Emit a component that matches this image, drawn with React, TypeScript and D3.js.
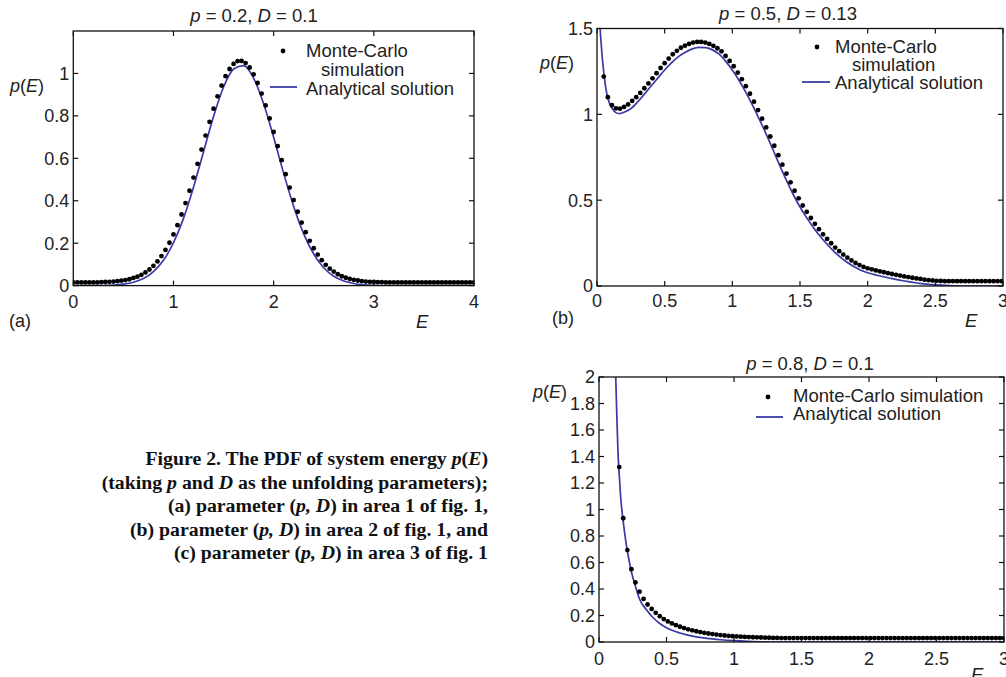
import React from 'react';
import * as d3 from 'd3';

// Monte-Carlo histograms (uniform bins) and analytical PDFs

// (a) p = 0.2, D = 0.1 : dots from E = 0 every 0.04
const mcStartA = 0;
const mcStepA = 0.04;
const mcA = [
  0.015, 0.015, 0.015, 0.015, 0.015, 0.015, 0.015, 0.016, 0.017, 0.018,
  0.019, 0.021, 0.023, 0.026, 0.030, 0.036, 0.042, 0.051, 0.062, 0.076,
  0.093, 0.114, 0.139, 0.168, 0.202, 0.241, 0.285, 0.335, 0.389, 0.447,
  0.509, 0.574, 0.641, 0.707, 0.772, 0.834, 0.892, 0.943, 0.987, 1.021,
  1.045, 1.058, 1.059, 1.049, 1.028, 0.996, 0.955, 0.905, 0.849, 0.788,
  0.724, 0.657, 0.591, 0.525, 0.462, 0.403, 0.348, 0.297, 0.252, 0.211,
  0.176, 0.146, 0.120, 0.098, 0.080, 0.066, 0.054, 0.044, 0.037, 0.031,
  0.027, 0.024, 0.021, 0.019, 0.018, 0.017, 0.016, 0.016, 0.015, 0.015,
  0.015, 0.015, 0.015, 0.015, 0.015, 0.015, 0.015, 0.015, 0.015, 0.015,
  0.015, 0.015, 0.015, 0.015, 0.015, 0.015, 0.015, 0.015, 0.015, 0.015,
  0.015,
];
const anaEA = [
  0, 0.1, 0.2, 0.3, 0.4, 0.5, 0.6, 0.7, 0.8, 0.9,
  1.0, 1.1, 1.2, 1.3, 1.4, 1.5, 1.6, 1.7, 1.8, 1.9,
  2.0, 2.1, 2.2, 2.3, 2.4, 2.5, 2.6, 2.7, 2.8, 2.9,
  3.0, 3.1, 3.2, 3.3, 3.4, 3.5, 3.6, 3.7, 3.8, 3.9, 4.0,
];
const anaPA = [
  0, 0, 0, 0, 0.002, 0.007, 0.016, 0.033, 0.066, 0.119,
  0.202, 0.317, 0.464, 0.631, 0.797, 0.936, 1.021, 1.037, 0.978, 0.857,
  0.699, 0.529, 0.373, 0.244, 0.149, 0.084, 0.044, 0.022, 0.010, 0.004,
  0.001, 0, 0, 0, 0, 0, 0, 0, 0, 0, 0,
];

// (b) p = 0.5, D = 0.13 : dots from E = 0.05 every 0.03
const mcStartB = 0.05;
const mcStepB = 0.03;
const mcB = [
  1.22, 1.10, 1.053, 1.035, 1.033, 1.043, 1.058, 1.078, 1.10, 1.125,
  1.152, 1.18, 1.21, 1.24, 1.27, 1.298, 1.325, 1.35, 1.37, 1.388,
  1.40, 1.41, 1.418, 1.422, 1.422, 1.418, 1.41, 1.399, 1.385, 1.367,
  1.34, 1.311, 1.28, 1.243, 1.205, 1.164, 1.12, 1.074, 1.025, 0.975,
  0.924, 0.871, 0.817, 0.762, 0.707, 0.655, 0.604, 0.555, 0.511, 0.469,
  0.432, 0.396, 0.362, 0.331, 0.301, 0.274, 0.249, 0.224, 0.203, 0.183,
  0.165, 0.149, 0.134, 0.122, 0.111, 0.103, 0.097, 0.091, 0.085, 0.08,
  0.075, 0.07, 0.065, 0.061, 0.056, 0.052, 0.048, 0.044, 0.041, 0.037,
  0.034, 0.032, 0.03, 0.029, 0.028, 0.028, 0.028, 0.028, 0.028, 0.028,
  0.028, 0.028, 0.028, 0.028, 0.028, 0.028, 0.028, 0.028, 0.028,
];
const anaEB = [
  0.02, 0.03, 0.04, 0.05, 0.06, 0.07, 0.08, 0.1, 0.12, 0.14, 0.165, 0.2,
  0.25, 0.3, 0.35, 0.4, 0.45, 0.5, 0.55, 0.6, 0.65, 0.7, 0.75, 0.8, 0.85,
  0.9, 0.95, 1.0, 1.05, 1.1, 1.15, 1.2, 1.25, 1.3, 1.35, 1.4, 1.45, 1.5,
  1.55, 1.6, 1.65, 1.7, 1.75, 1.8, 1.85, 1.9, 1.95, 2.0, 2.05, 2.1, 2.15,
  2.2, 2.25, 2.3, 2.35, 2.4, 2.45, 2.5, 2.6, 2.7, 2.8, 2.9, 3.0,
];
const anaPB = [
  1.53, 1.42, 1.32, 1.245, 1.18, 1.13, 1.095, 1.05, 1.025, 1.01, 1.004, 1.012,
  1.033, 1.072, 1.118, 1.165, 1.212, 1.258, 1.30, 1.335, 1.36, 1.38, 1.39, 1.389, 1.377,
  1.352, 1.31, 1.258, 1.197, 1.128, 1.052, 0.97, 0.885, 0.795, 0.703, 0.615, 0.533, 0.46,
  0.397, 0.34, 0.288, 0.243, 0.202, 0.167, 0.137, 0.112, 0.092, 0.077, 0.066, 0.057, 0.048,
  0.040, 0.032, 0.025, 0.019, 0.014, 0.009, 0.006, 0.002, 0, 0, 0, 0,
];

// (c) p = 0.8, D = 0.1 : dots from E = 0.15 every 0.03
const mcStartC = 0.15;
const mcStepC = 0.03;
const mcC = [
  1.32, 0.934, 0.694, 0.55, 0.45, 0.38, 0.325, 0.283, 0.25, 0.22,
  0.195, 0.173, 0.155, 0.14, 0.127, 0.115, 0.105, 0.096, 0.088, 0.081,
  0.075, 0.069, 0.064, 0.06, 0.056, 0.052, 0.049, 0.046, 0.044, 0.042,
  0.04, 0.038, 0.037, 0.036, 0.035, 0.034, 0.033, 0.032, 0.031, 0.031,
  0.03, 0.03, 0.03, 0.03, 0.03, 0.03, 0.03, 0.03, 0.03, 0.03,
  0.03, 0.03, 0.03, 0.03, 0.03, 0.03, 0.03, 0.03, 0.03, 0.03,
  0.03, 0.03, 0.03, 0.03, 0.03, 0.03, 0.03, 0.03, 0.03, 0.03,
  0.03, 0.03, 0.03, 0.03, 0.03, 0.03, 0.03, 0.03, 0.03, 0.03,
  0.03, 0.03, 0.03, 0.03, 0.03, 0.03, 0.03, 0.03, 0.03, 0.03,
  0.03, 0.03, 0.03, 0.03, 0.03, 0.03,
];
const anaEC = [
  0.1, 0.11, 0.12, 0.13, 0.14, 0.15, 0.16, 0.18, 0.2, 0.22, 0.24, 0.27, 0.3,
  0.35, 0.4, 0.45, 0.5, 0.6, 0.7, 0.8, 0.9, 1.0, 1.1, 1.2, 1.3, 1.5, 2.0, 2.5, 3.0,
];
const anaPC = [
  3.2, 2.6, 2.15, 1.78, 1.45, 1.26, 1.1, 0.905, 0.75, 0.63, 0.53, 0.42, 0.325,
  0.245, 0.185, 0.14, 0.108, 0.068, 0.043, 0.027, 0.017, 0.01, 0.005, 0.002, 0, 0, 0, 0, 0,
];

const xTicksA = [0, 1, 2, 3, 4];
const yTicksA = [0, 0.2, 0.4, 0.6, 0.8, 1];
const xTicksBC = [0, 0.5, 1, 1.5, 2, 2.5, 3];
const yTicksB = [0, 0.5, 1, 1.5];
const yTicksC = [0, 0.2, 0.4, 0.6, 0.8, 1, 1.2, 1.4, 1.6, 1.8, 2];

const SANS = '"Liberation Sans", Arial, Helvetica, sans-serif';
const SERIF = '"Liberation Serif", "Times New Roman", Times, serif';
const INK = '#222';
const BLUE = '#3a3aa6';
const fmt = d3.format('~g');

const It = ({ children }: { children: React.ReactNode }) => (
  <tspan fontStyle="italic">{children}</tspan>
);

function Panel({ id, box, xMax, yMax, xTicks, yTicks, mc, ana, title, text }: any) {
  const x = d3.scaleLinear().domain([0, xMax]).range([box.left, box.right]);
  const y = d3.scaleLinear().domain([0, yMax]).range([box.bottom, box.top]);
  const line = d3.line<[number, number]>()
    .x(d => x(d[0]))
    .y(d => y(d[1]))
    .curve(d3.curveMonotoneX);
  const anaPts: [number, number][] = ana.e.map((e: number, i: number) => [e, ana.p[i]]);
  const mcPts: [number, number][] = mc.values.map((v: number, i: number) => [mc.start + i * mc.step, v]);
  const tl = 5;
  return (
    <g>
      <defs>
        <clipPath id={`clip-${id}`}>
          <rect x={box.left} y={box.top} width={box.right - box.left} height={box.bottom - box.top} />
        </clipPath>
      </defs>
      <text x={title.x} y={title.y} textAnchor="middle" fontFamily={SANS} fontSize={18.5} fill={INK}>
        <It>p</It>{' = ' + title.p + ', '}<It>D</It>{' = ' + title.d}
      </text>
      <g clipPath={`url(#clip-${id})`}>
        <path d={line(anaPts) || ''} fill="none" stroke={BLUE} strokeWidth={1.7} />
        {mcPts.map((d, i) => (
          <circle key={i} cx={x(d[0])} cy={y(d[1])} r={2.4} fill="#000" />
        ))}
      </g>
      <rect x={box.left} y={box.top} width={box.right - box.left} height={box.bottom - box.top}
        fill="none" stroke="#111" strokeWidth={1.3} />
      {xTicks.map((t: number) => (
        <g key={'x' + t}>
          <line x1={x(t)} x2={x(t)} y1={box.bottom} y2={box.bottom - tl} stroke="#111" strokeWidth={1.2} />
          <line x1={x(t)} x2={x(t)} y1={box.top} y2={box.top + tl} stroke="#111" strokeWidth={1.2} />
          <text x={x(t)} y={text.xTickY} textAnchor="middle" fontFamily={SANS} fontSize={18} fill={INK}>{fmt(t)}</text>
        </g>
      ))}
      {yTicks.map((t: number) => (
        <g key={'y' + t}>
          <line x1={box.left} x2={box.left + tl} y1={y(t)} y2={y(t)} stroke="#111" strokeWidth={1.2} />
          <line x1={box.right} x2={box.right - tl} y1={y(t)} y2={y(t)} stroke="#111" strokeWidth={1.2} />
          <text x={box.left - 4} y={y(t)} dy="0.36em" textAnchor="end" fontFamily={SANS} fontSize={18} fill={INK}>{fmt(t)}</text>
        </g>
      ))}
      <text x={text.pE[0]} y={text.pE[1]} fontFamily={SANS} fontSize={18} fill={INK}>
        <It>p</It>(<It>E</It>)
      </text>
      <text x={text.E[0]} y={text.E[1]} fontFamily={SANS} fontSize={18.5} fill={INK} fontStyle="italic">E</text>
      {text.tag && (
        <text x={text.tag[0]} y={text.tag[1]} fontFamily={SANS} fontSize={18} fill={INK}>{text.tag[2]}</text>
      )}
      {/* legend */}
      <circle cx={text.leg.marker[0]} cy={text.leg.marker[1]} r={2.4} fill="#000" />
      {text.leg.mcLines.map((l: any, i: number) => (
        <text key={i} x={l[0]} y={l[1]} fontFamily={SANS} fontSize={18.5} fill={INK}>{l[2]}</text>
      ))}
      <line x1={text.leg.line[0]} x2={text.leg.line[1]} y1={text.leg.line[2]} y2={text.leg.line[2]}
        stroke={BLUE} strokeWidth={1.8} />
      <text x={text.leg.ana[0]} y={text.leg.ana[1]} fontFamily={SANS} fontSize={18.5} fill={INK}>Analytical solution</text>
    </g>
  );
}

export default function App() {
  const captionLines = [
    <>{'Figure 2. The PDF of system energy '}<It>p</It>(<It>E</It>)</>,
    <>{'(taking '}<It>p</It>{' and '}<It>D</It>{' as the unfolding parameters);'}</>,
    <>{'(a) parameter ('}<It>p, D</It>{') in area 1 of fig. 1,'}</>,
    <>{'(b) parameter ('}<It>p, D</It>{') in area 2 of fig. 1, and'}</>,
    <>{'(c) parameter ('}<It>p, D</It>{') in area 3 of fig. 1'}</>,
  ];
  const captionY = [465, 488.5, 512, 535.5, 559];
  return (
    <div style={{ position: 'absolute', left: 0, top: 0, background: '#fff' }}>
      <svg width={1006} height={677} style={{ display: 'block' }}>
        <rect width={1006} height={677} fill="#fff" />
        <Panel
          id="a"
          box={{ left: 73.3, right: 474, top: 31, bottom: 285.6 }}
          xMax={4} yMax={1.2} xTicks={xTicksA} yTicks={yTicksA}
          mc={{ start: mcStartA, step: mcStepA, values: mcA }}
          ana={{ e: anaEA, p: anaPA }}
          title={{ x: 254, y: 22, p: '0.2', d: '0.1' }}
          text={{
            xTickY: 308, pE: [10, 92], E: [416, 328], tag: [9, 327, '(a)'],
            leg: {
              marker: [283, 51],
              mcLines: [[306, 57, 'Monte-Carlo'], [321, 76, 'simulation']],
              line: [270, 297, 87], ana: [306, 95],
            },
          }}
        />
        <Panel
          id="b"
          box={{ left: 597, right: 1003, top: 28.5, bottom: 286 }}
          xMax={3} yMax={1.5} xTicks={xTicksBC} yTicks={yTicksB}
          mc={{ start: mcStartB, step: mcStepB, values: mcB }}
          ana={{ e: anaEB, p: anaPB }}
          title={{ x: 788, y: 20, p: '0.5', d: '0.13' }}
          text={{
            xTickY: 307, pE: [540, 69], E: [965, 327], tag: [552, 324, '(b)'],
            leg: {
              marker: [817, 47],
              mcLines: [[835, 53, 'Monte-Carlo'], [852, 71, 'simulation']],
              line: [802, 830, 82], ana: [835, 89],
            },
          }}
        />
        <Panel
          id="c"
          box={{ left: 599, right: 1004, top: 377, bottom: 642 }}
          xMax={3} yMax={2} xTicks={xTicksBC} yTicks={yTicksC}
          mc={{ start: mcStartC, step: mcStepC, values: mcC }}
          ana={{ e: anaEC, p: anaPC }}
          title={{ x: 810, y: 370, p: '0.8', d: '0.1' }}
          text={{
            xTickY: 665, pE: [533, 398], E: [971, 681], tag: null,
            leg: {
              marker: [768, 397],
              mcLines: [[793, 402, 'Monte-Carlo simulation']],
              line: [756, 783, 417], ana: [793, 420],
            },
          }}
        />
        {captionLines.map((c, i) => (
          <text key={i} x={488} y={captionY[i]} textAnchor="end" fontFamily={SERIF}
            fontWeight="bold" fontSize={19.8} fill="#111">{c}</text>
        ))}
      </svg>
    </div>
  );
}
